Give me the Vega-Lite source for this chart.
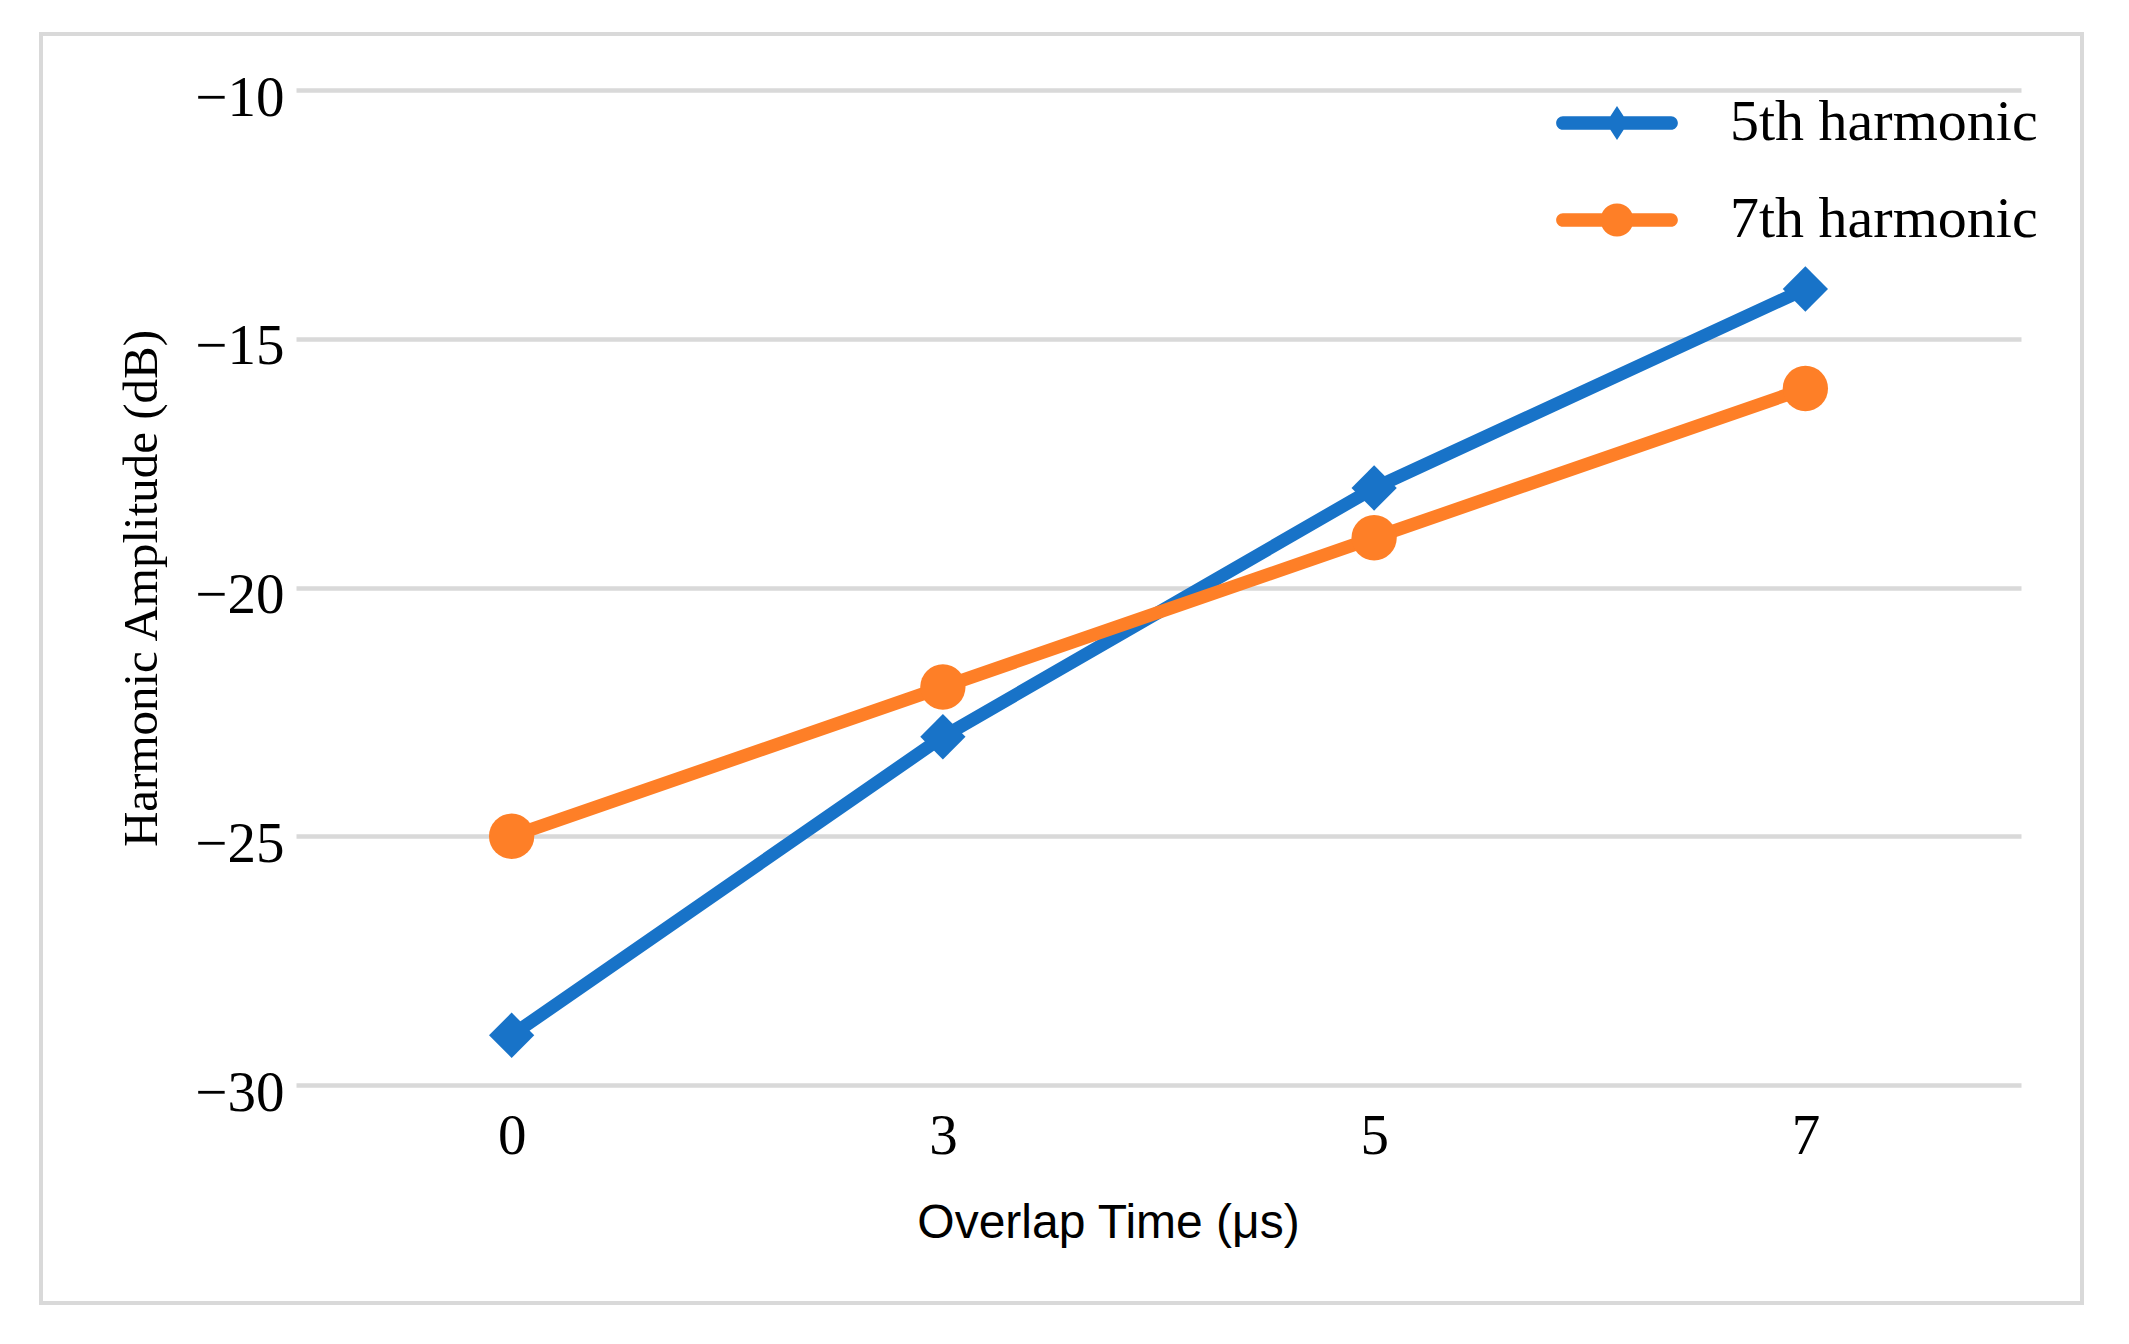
{
  "$schema": "https://vega.github.io/schema/vega-lite/v6.json",
  "width": 2041,
  "height": 1269,
  "autosize": {"type": "none"},
  "padding": {"left": 41, "top": 34, "right": 47, "bottom": 41},
  "background": "white",
  "config": {
    "view": {"stroke": "#d9d9d9", "strokeWidth": 4},
    "font": "Liberation Serif"
  },
  "data": {
    "values": [
      {"series": "5th harmonic", "order": 5, "t": 0, "amp": -29},
      {"series": "5th harmonic", "order": 5, "t": 3, "amp": -23},
      {"series": "5th harmonic", "order": 5, "t": 5, "amp": -18},
      {"series": "5th harmonic", "order": 5, "t": 7, "amp": -14},
      {"series": "7th harmonic", "order": 7, "t": 0, "amp": -25},
      {"series": "7th harmonic", "order": 7, "t": 3, "amp": -22},
      {"series": "7th harmonic", "order": 7, "t": 5, "amp": -19},
      {"series": "7th harmonic", "order": 7, "t": 7, "amp": -16}
    ]
  },
  "encoding": {
    "x": {
      "field": "t",
      "type": "ordinal",
      "scale": {"type": "point", "range": [255, 1980], "padding": 0.5},
      "axis": {
        "title": "Overlap Time (μs)",
        "orient": "bottom",
        "offset": -218,
        "domain": false,
        "ticks": false,
        "grid": false,
        "labelAngle": 0,
        "labelFont": "Liberation Serif",
        "labelFontSize": 57,
        "labelColor": "black",
        "labelBaseline": "alphabetic",
        "labelPadding": 68,
        "titleFont": "Liberation Sans",
        "titleFontSize": 48,
        "titleFontWeight": "normal",
        "titleColor": "black",
        "titleBaseline": "alphabetic",
        "titleAlign": "center",
        "titleX": 1067,
        "titleY": 152
      }
    },
    "y": {
      "field": "amp",
      "type": "quantitative",
      "scale": {"domain": [-30, -10], "range": [1051, 56], "nice": false, "zero": false},
      "axis": {
        "title": "Harmonic Amplitude (dB)",
        "offset": -255,
        "values": [-30, -25, -20, -15, -10],
        "domain": false,
        "ticks": false,
        "grid": true,
        "gridColor": "#d9d9d9",
        "gridWidth": 4.5,
        "labelFont": "Liberation Serif",
        "labelFontSize": 57,
        "labelColor": "black",
        "labelPadding": 12,
        "labelBaseline": "alphabetic",
        "labelOffset": 25,
        "labelOverlap": false,
        "titleFont": "Liberation Serif",
        "titleFontSize": 49,
        "titleFontWeight": "normal",
        "titleColor": "black",
        "titleBaseline": "alphabetic",
        "titleAlign": "center",
        "titleX": -140,
        "titleY": 554
      }
    },
    "color": {
      "field": "series",
      "type": "nominal",
      "scale": {"domain": ["5th harmonic", "7th harmonic"], "range": ["#1873c8", "#fe7f27"]},
      "legend": {
        "orient": "none",
        "legendX": 1547,
        "legendY": 60,
        "title": null,
        "padding": 0,
        "labelFont": "Liberation Serif",
        "labelFontSize": 58,
        "labelColor": "black",
        "labelOffset": 84,
        "labelLimit": 500,
        "symbolSize": 1156,
        "symbolStrokeWidth": 0,
        "symbolOpacity": 1,
        "rowPadding": 39,
        "symbolType": {"expr": "datum.value === '5th harmonic' ? 'M-3.18,-0.4L3.18,-0.4A0.4,0.4,0,0,1,3.18,0.4L-3.18,0.4A0.4,0.4,0,0,1,-3.18,-0.4ZM0,-1L0.65,0L0,1L-0.65,0Z' : 'M-3.18,-0.4L3.18,-0.4A0.4,0.4,0,0,1,3.18,0.4L-3.18,0.4A0.4,0.4,0,0,1,-3.18,-0.4ZM-0.97,0A0.97,0.97,0,1,1,0.97,0A0.97,0.97,0,1,1,-0.97,0Z'"}
      }
    }
  },
  "layer": [
    {"mark": {"type": "line", "strokeWidth": 13}},
    {
      "mark": {"type": "point", "filled": true, "opacity": 1, "size": 2050},
      "encoding": {
        "shape": {
          "field": "order",
          "type": "nominal",
          "scale": {"domain": [5, 7], "range": ["diamond", "circle"]},
          "legend": null
        }
      }
    }
  ]
}
